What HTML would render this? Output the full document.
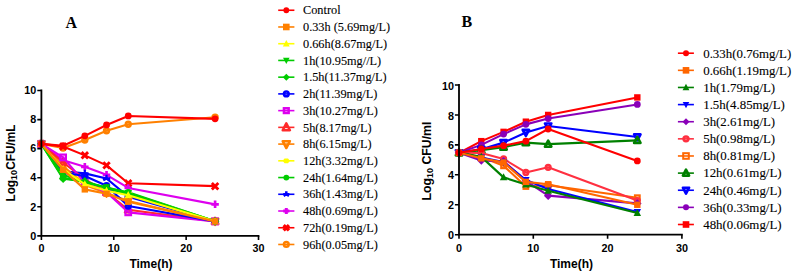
<!DOCTYPE html>
<html><head><meta charset="utf-8"><style>
html,body{margin:0;padding:0;background:#fff;width:792px;height:274px;overflow:hidden}
svg{display:block}
.tl{font-family:"Liberation Sans",sans-serif;font-weight:bold;font-size:10.8px;fill:#000}
.ax{font-family:"Liberation Sans",sans-serif;font-weight:bold;font-size:12px;fill:#000}
.sub{font-size:9px}
.let{font-family:"Liberation Serif",serif;font-weight:bold;font-size:16px;fill:#000}
.lg{font-family:"Liberation Serif",serif;font-size:12.3px;fill:#000;stroke:#000;stroke-width:0.1px}
.lg2{font-family:"Liberation Serif",serif;font-size:12.9px;fill:#000;stroke:#000;stroke-width:0.1px}
</style></head><body>
<svg width="792" height="274" viewBox="0 0 792 274">
<polyline points="41.4,143.86 63.11,147.93 84.82,139.94 106.53,130.78 128.24,124.23 215.09,117.25" fill="none" stroke="#ff8000" stroke-width="2.1" stroke-linejoin="round"/><circle cx="41.4" cy="143.86" r="2.4" fill="none" stroke="#ff8000" stroke-width="2.6"/><circle cx="63.11" cy="147.93" r="2.4" fill="none" stroke="#ff8000" stroke-width="2.6"/><circle cx="84.82" cy="139.94" r="2.4" fill="none" stroke="#ff8000" stroke-width="2.6"/><circle cx="106.53" cy="130.78" r="2.4" fill="none" stroke="#ff8000" stroke-width="2.6"/><circle cx="128.24" cy="124.23" r="2.4" fill="none" stroke="#ff8000" stroke-width="2.6"/><circle cx="215.09" cy="117.25" r="2.4" fill="none" stroke="#ff8000" stroke-width="2.6"/><polyline points="41.4,143.86 63.11,146.48 84.82,155.35 106.53,165.38 128.24,183.27 215.09,186.17" fill="none" stroke="#ff0000" stroke-width="2.1" stroke-linejoin="round"/><path d="M38.17,140.63L44.63,147.09M44.63,140.63L38.17,147.09" stroke="#ff0000" stroke-width="2.86"/><path d="M59.88,143.25L66.34,149.71M66.34,143.25L59.88,149.71" stroke="#ff0000" stroke-width="2.86"/><path d="M81.59,152.12L88.05,158.58M88.05,152.12L81.59,158.58" stroke="#ff0000" stroke-width="2.86"/><path d="M103.3,162.15L109.76,168.61M109.76,162.15L103.3,168.61" stroke="#ff0000" stroke-width="2.86"/><path d="M125.01,180.04L131.47,186.5M131.47,180.04L125.01,186.5" stroke="#ff0000" stroke-width="2.86"/><path d="M211.86,182.94L218.32,189.4M218.32,182.94L211.86,189.4" stroke="#ff0000" stroke-width="2.86"/><polyline points="41.4,143.86 63.11,160.29 84.82,166.84 106.53,174.83 128.24,187.92 215.09,204.35" fill="none" stroke="#dd00ee" stroke-width="2.1" stroke-linejoin="round"/><path d="M37.66,143.86H45.14M41.4,140.12V147.6" stroke="#dd00ee" stroke-width="2.64"/><path d="M59.37,160.29H66.85M63.11,156.55V164.03" stroke="#dd00ee" stroke-width="2.64"/><path d="M81.08,166.84H88.56M84.82,163.09V170.58" stroke="#dd00ee" stroke-width="2.64"/><path d="M102.79,174.83H110.27M106.53,171.09V178.57" stroke="#dd00ee" stroke-width="2.64"/><path d="M124.5,187.92H131.98M128.24,184.18V191.66" stroke="#dd00ee" stroke-width="2.64"/><path d="M211.35,204.35H218.83M215.09,200.61V208.09" stroke="#dd00ee" stroke-width="2.64"/><polyline points="41.4,143.86 63.11,171.2 84.82,173.38 106.53,178.47 128.24,196.64 215.09,221.36" fill="none" stroke="#0000ff" stroke-width="2.1" stroke-linejoin="round"/><path d="M41.4,143.86L41.4,140.12M41.4,143.86L38.16,145.73M41.4,143.86L44.64,145.73M37.66,143.86L45.14,143.86" stroke="#0000ff" stroke-width="2.2"/><path d="M63.11,171.2L63.11,167.46M63.11,171.2L59.87,173.07M63.11,171.2L66.35,173.07M59.37,171.2L66.85,171.2" stroke="#0000ff" stroke-width="2.2"/><path d="M84.82,173.38L84.82,169.64M84.82,173.38L81.58,175.25M84.82,173.38L88.06,175.25M81.08,173.38L88.56,173.38" stroke="#0000ff" stroke-width="2.2"/><path d="M106.53,178.47L106.53,174.73M106.53,178.47L103.29,180.34M106.53,178.47L109.77,180.34M102.79,178.47L110.27,178.47" stroke="#0000ff" stroke-width="2.2"/><path d="M128.24,196.64L128.24,192.9M128.24,196.64L125.01,198.51M128.24,196.64L131.48,198.51M124.5,196.64L131.98,196.64" stroke="#0000ff" stroke-width="2.2"/><path d="M215.09,221.36L215.09,217.62M215.09,221.36L211.85,223.23M215.09,221.36L218.33,223.23M211.35,221.36L218.83,221.36" stroke="#0000ff" stroke-width="2.2"/><polyline points="41.4,143.86 63.11,177.74 84.82,182.1 106.53,187.92 128.24,192.28 215.09,221.36" fill="none" stroke="#00cc00" stroke-width="2.1" stroke-linejoin="round"/><circle cx="41.4" cy="143.86" r="3.4" fill="#00cc00"/><circle cx="63.11" cy="177.74" r="3.4" fill="#00cc00"/><circle cx="84.82" cy="182.1" r="3.4" fill="#00cc00"/><circle cx="106.53" cy="187.92" r="3.4" fill="#00cc00"/><circle cx="128.24" cy="192.28" r="3.4" fill="#00cc00"/><circle cx="215.09" cy="221.36" r="3.4" fill="#00cc00"/><polyline points="41.4,143.86 63.11,168.29 84.82,182.1 106.53,190.1 128.24,193.73 215.09,221.36" fill="none" stroke="#ffff00" stroke-width="2.1" stroke-linejoin="round"/><polygon points="45.7,143.86 43.55,146.74 39.25,146.74 37.1,143.86 39.25,140.98 43.55,140.98" fill="#ffff00"/><polygon points="67.41,168.29 65.26,171.17 60.96,171.17 58.81,168.29 60.96,165.41 65.26,165.41" fill="#ffff00"/><polygon points="89.12,182.1 86.97,184.98 82.67,184.98 80.52,182.1 82.67,179.22 86.97,179.22" fill="#ffff00"/><polygon points="110.83,190.1 108.68,192.98 104.38,192.98 102.23,190.1 104.38,187.22 108.68,187.22" fill="#ffff00"/><polygon points="132.54,193.73 130.39,196.61 126.09,196.61 123.94,193.73 126.09,190.86 130.39,190.86" fill="#ffff00"/><polygon points="219.39,221.36 217.24,224.24 212.94,224.24 210.79,221.36 212.94,218.48 217.24,218.48" fill="#ffff00"/><polyline points="41.4,143.86 63.11,166.11 84.82,185.01 106.53,193.01 128.24,201 215.09,221.36" fill="none" stroke="#ff8000" stroke-width="2.1" stroke-linejoin="round"/><polygon points="41.4,147.6 44.8,141.14 38,141.14" fill="none" stroke="#ff8000" stroke-width="2.2" stroke-linejoin="round"/><polygon points="63.11,169.85 66.51,163.39 59.71,163.39" fill="none" stroke="#ff8000" stroke-width="2.2" stroke-linejoin="round"/><polygon points="84.82,188.75 88.22,182.29 81.42,182.29" fill="none" stroke="#ff8000" stroke-width="2.2" stroke-linejoin="round"/><polygon points="106.53,196.75 109.93,190.29 103.13,190.29" fill="none" stroke="#ff8000" stroke-width="2.2" stroke-linejoin="round"/><polygon points="128.24,204.74 131.64,198.28 124.84,198.28" fill="none" stroke="#ff8000" stroke-width="2.2" stroke-linejoin="round"/><polygon points="215.09,225.1 218.49,218.64 211.69,218.64" fill="none" stroke="#ff8000" stroke-width="2.2" stroke-linejoin="round"/><polyline points="41.4,143.86 63.11,162.47 84.82,179.19 106.53,192.28 128.24,209.73 215.09,221.36" fill="none" stroke="#ff2a2a" stroke-width="2.1" stroke-linejoin="round"/><polygon points="41.4,140.12 44.8,146.58 38,146.58" fill="none" stroke="#ff2a2a" stroke-width="2.2" stroke-linejoin="round"/><polygon points="63.11,158.73 66.51,165.19 59.71,165.19" fill="none" stroke="#ff2a2a" stroke-width="2.2" stroke-linejoin="round"/><polygon points="84.82,175.45 88.22,181.91 81.42,181.91" fill="none" stroke="#ff2a2a" stroke-width="2.2" stroke-linejoin="round"/><polygon points="106.53,188.54 109.93,195 103.13,195" fill="none" stroke="#ff2a2a" stroke-width="2.2" stroke-linejoin="round"/><polygon points="128.24,205.99 131.64,212.45 124.84,212.45" fill="none" stroke="#ff2a2a" stroke-width="2.2" stroke-linejoin="round"/><polygon points="215.09,217.62 218.49,224.08 211.69,224.08" fill="none" stroke="#ff2a2a" stroke-width="2.2" stroke-linejoin="round"/><polyline points="41.4,143.86 63.11,157.38 84.82,182.83 106.53,192.28 128.24,212.35 215.09,221.36" fill="none" stroke="#dd00ee" stroke-width="2.1" stroke-linejoin="round"/><rect x="38.6" y="141.06" width="5.6" height="5.6" fill="none" stroke="#dd00ee" stroke-width="2.2"/><rect x="60.31" y="154.58" width="5.6" height="5.6" fill="none" stroke="#dd00ee" stroke-width="2.2"/><rect x="82.02" y="180.03" width="5.6" height="5.6" fill="none" stroke="#dd00ee" stroke-width="2.2"/><rect x="103.73" y="189.48" width="5.6" height="5.6" fill="none" stroke="#dd00ee" stroke-width="2.2"/><rect x="125.44" y="209.55" width="5.6" height="5.6" fill="none" stroke="#dd00ee" stroke-width="2.2"/><rect x="212.29" y="218.56" width="5.6" height="5.6" fill="none" stroke="#dd00ee" stroke-width="2.2"/><polyline points="41.4,143.86 63.11,172.65 84.82,176 106.53,185.74 128.24,205.95 215.09,221.36" fill="none" stroke="#0000ff" stroke-width="2.1" stroke-linejoin="round"/><circle cx="41.4" cy="143.86" r="2.4" fill="none" stroke="#0000ff" stroke-width="2.6"/><circle cx="63.11" cy="172.65" r="2.4" fill="none" stroke="#0000ff" stroke-width="2.6"/><circle cx="84.82" cy="176" r="2.4" fill="none" stroke="#0000ff" stroke-width="2.6"/><circle cx="106.53" cy="185.74" r="2.4" fill="none" stroke="#0000ff" stroke-width="2.6"/><circle cx="128.24" cy="205.95" r="2.4" fill="none" stroke="#0000ff" stroke-width="2.6"/><circle cx="215.09" cy="221.36" r="2.4" fill="none" stroke="#0000ff" stroke-width="2.6"/><polyline points="41.4,143.86 63.11,178.76 84.82,181.38 106.53,187.92 128.24,194.46 215.09,221.36" fill="none" stroke="#00cc00" stroke-width="2.1" stroke-linejoin="round"/><polygon points="41.4,139.61 45.65,143.86 41.4,148.11 37.15,143.86" fill="#00cc00"/><polygon points="63.11,174.51 67.36,178.76 63.11,183.01 58.86,178.76" fill="#00cc00"/><polygon points="84.82,177.12 89.07,181.38 84.82,185.62 80.57,181.38" fill="#00cc00"/><polygon points="106.53,183.67 110.78,187.92 106.53,192.17 102.28,187.92" fill="#00cc00"/><polygon points="128.24,190.21 132.49,194.46 128.24,198.71 123.99,194.46" fill="#00cc00"/><polygon points="215.09,217.11 219.34,221.36 215.09,225.61 210.84,221.36" fill="#00cc00"/><polyline points="41.4,143.86 63.11,174.83 84.82,182.83 106.53,187.19 128.24,193.01 215.09,221.36" fill="none" stroke="#00cc00" stroke-width="2.1" stroke-linejoin="round"/><polygon points="41.4,147.98 45.14,140.87 37.66,140.87" fill="#00cc00"/><polygon points="63.11,178.95 66.85,171.84 59.37,171.84" fill="#00cc00"/><polygon points="84.82,186.94 88.56,179.84 81.08,179.84" fill="#00cc00"/><polygon points="106.53,191.31 110.27,184.2 102.79,184.2" fill="#00cc00"/><polygon points="128.24,197.12 131.98,190.02 124.5,190.02" fill="#00cc00"/><polygon points="215.09,225.47 218.83,218.37 211.35,218.37" fill="#00cc00"/><polyline points="41.4,143.86 63.11,169.02 84.82,184.28 106.53,190.83 128.24,195.19 215.09,221.36" fill="none" stroke="#ffff00" stroke-width="2.1" stroke-linejoin="round"/><polygon points="41.4,139.75 45.14,146.85 37.66,146.85" fill="#ffff00"/><polygon points="63.11,164.9 66.85,172.01 59.37,172.01" fill="#ffff00"/><polygon points="84.82,180.17 88.56,187.28 81.08,187.28" fill="#ffff00"/><polygon points="106.53,186.71 110.27,193.82 102.79,193.82" fill="#ffff00"/><polygon points="128.24,191.07 131.98,198.18 124.5,198.18" fill="#ffff00"/><polygon points="215.09,217.25 218.83,224.35 211.35,224.35" fill="#ffff00"/><polyline points="41.4,143.86 63.11,169.74 84.82,189.37 106.53,193.73 128.24,201.73 215.09,221.36" fill="none" stroke="#ff8000" stroke-width="2.1" stroke-linejoin="round"/><rect x="38.2" y="140.66" width="6.4" height="6.4" fill="#ff8000"/><rect x="59.91" y="166.54" width="6.4" height="6.4" fill="#ff8000"/><rect x="81.62" y="186.17" width="6.4" height="6.4" fill="#ff8000"/><rect x="103.33" y="190.53" width="6.4" height="6.4" fill="#ff8000"/><rect x="125.04" y="198.53" width="6.4" height="6.4" fill="#ff8000"/><rect x="211.89" y="218.16" width="6.4" height="6.4" fill="#ff8000"/><polyline points="41.4,143.86 63.11,145.75 84.82,135.86 106.53,124.96 128.24,115.95 215.09,118.85" fill="none" stroke="#ff0000" stroke-width="2.1" stroke-linejoin="round"/><circle cx="41.4" cy="143.86" r="3.4" fill="#ff0000"/><circle cx="63.11" cy="145.75" r="3.4" fill="#ff0000"/><circle cx="84.82" cy="135.86" r="3.4" fill="#ff0000"/><circle cx="106.53" cy="124.96" r="3.4" fill="#ff0000"/><circle cx="128.24" cy="115.95" r="3.4" fill="#ff0000"/><circle cx="215.09" cy="118.85" r="3.4" fill="#ff0000"/><path d="M41.4,89.6V236.8M40.5,235.9H259.41" stroke="#000" stroke-width="1.8" fill="none"/><text x="36.3" y="239.6" text-anchor="end" class="tl">0</text><text x="36.3" y="210.52" text-anchor="end" class="tl">2</text><text x="36.3" y="181.44" text-anchor="end" class="tl">4</text><text x="36.3" y="152.36" text-anchor="end" class="tl">6</text><text x="36.3" y="123.28" text-anchor="end" class="tl">8</text><text x="36.3" y="94.2" text-anchor="end" class="tl">10</text><text x="41.4" y="251.5" text-anchor="middle" class="tl">0</text><text x="113.77" y="251.5" text-anchor="middle" class="tl">10</text><text x="186.14" y="251.5" text-anchor="middle" class="tl">20</text><text x="258.51" y="251.5" text-anchor="middle" class="tl">30</text><path d="M37.3,235.9H41.4M37.3,206.82H41.4M37.3,177.74H41.4M37.3,148.66H41.4M37.3,119.58H41.4M37.3,90.5H41.4M41.4,235.9V240M113.77,235.9V240M186.14,235.9V240M258.51,235.9V240" stroke="#000" stroke-width="1.6" fill="none"/><text x="150.95" y="268" text-anchor="middle" class="ax">Time(h)</text><polyline points="459,152.81 481.29,141.14 503.58,131.86 525.87,121.68 548.16,114.94 637.32,97.43" fill="none" stroke="#ff0000" stroke-width="2.1" stroke-linejoin="round"/><rect x="455.8" y="149.61" width="6.4" height="6.4" fill="#ff0000"/><rect x="478.09" y="137.94" width="6.4" height="6.4" fill="#ff0000"/><rect x="500.38" y="128.66" width="6.4" height="6.4" fill="#ff0000"/><rect x="522.67" y="118.48" width="6.4" height="6.4" fill="#ff0000"/><rect x="544.96" y="111.74" width="6.4" height="6.4" fill="#ff0000"/><rect x="634.12" y="94.23" width="6.4" height="6.4" fill="#ff0000"/><polyline points="459,152.81 481.29,144.88 503.58,134.1 525.87,124.37 548.16,118.53 637.32,104.46" fill="none" stroke="#8a00b8" stroke-width="2.1" stroke-linejoin="round"/><circle cx="459" cy="152.81" r="3.4" fill="#8a00b8"/><circle cx="481.29" cy="144.88" r="3.4" fill="#8a00b8"/><circle cx="503.58" cy="134.1" r="3.4" fill="#8a00b8"/><circle cx="525.87" cy="124.37" r="3.4" fill="#8a00b8"/><circle cx="548.16" cy="118.53" r="3.4" fill="#8a00b8"/><circle cx="637.32" cy="104.46" r="3.4" fill="#8a00b8"/><polyline points="459,152.81 481.29,149.37 503.58,142.63 525.87,132.45 548.16,126.02 637.32,136.95" fill="none" stroke="#0000ff" stroke-width="2.1" stroke-linejoin="round"/><polygon points="459,156.33 462.2,150.25 455.8,150.25" fill="none" stroke="#0000ff" stroke-width="2.6" stroke-linejoin="round"/><polygon points="481.29,152.89 484.49,146.81 478.09,146.81" fill="none" stroke="#0000ff" stroke-width="2.6" stroke-linejoin="round"/><polygon points="503.58,146.15 506.78,140.07 500.38,140.07" fill="none" stroke="#0000ff" stroke-width="2.6" stroke-linejoin="round"/><polygon points="525.87,135.97 529.07,129.89 522.67,129.89" fill="none" stroke="#0000ff" stroke-width="2.6" stroke-linejoin="round"/><polygon points="548.16,129.54 551.36,123.46 544.96,123.46" fill="none" stroke="#0000ff" stroke-width="2.6" stroke-linejoin="round"/><polygon points="637.32,140.47 640.52,134.39 634.12,134.39" fill="none" stroke="#0000ff" stroke-width="2.6" stroke-linejoin="round"/><polyline points="459,152.81 481.29,150.12 503.58,147.13 525.87,142.63 548.16,144.13 637.32,140.39" fill="none" stroke="#008000" stroke-width="2.1" stroke-linejoin="round"/><polygon points="459,149.29 462.2,155.37 455.8,155.37" fill="none" stroke="#008000" stroke-width="2.6" stroke-linejoin="round"/><polygon points="481.29,146.6 484.49,152.68 478.09,152.68" fill="none" stroke="#008000" stroke-width="2.6" stroke-linejoin="round"/><polygon points="503.58,143.61 506.78,149.69 500.38,149.69" fill="none" stroke="#008000" stroke-width="2.6" stroke-linejoin="round"/><polygon points="525.87,139.11 529.07,145.19 522.67,145.19" fill="none" stroke="#008000" stroke-width="2.6" stroke-linejoin="round"/><polygon points="548.16,140.61 551.36,146.69 544.96,146.69" fill="none" stroke="#008000" stroke-width="2.6" stroke-linejoin="round"/><polygon points="637.32,136.87 640.52,142.95 634.12,142.95" fill="none" stroke="#008000" stroke-width="2.6" stroke-linejoin="round"/><polyline points="459,152.81 481.29,157.01 503.58,165.84 525.87,186.5 548.16,185.3 637.32,197.72" fill="none" stroke="#ff6600" stroke-width="2.1" stroke-linejoin="round"/><rect x="456.7" y="150.51" width="4.6" height="4.6" fill="none" stroke="#ff6600" stroke-width="2.2"/><rect x="478.99" y="154.71" width="4.6" height="4.6" fill="none" stroke="#ff6600" stroke-width="2.2"/><rect x="501.28" y="163.54" width="4.6" height="4.6" fill="none" stroke="#ff6600" stroke-width="2.2"/><rect x="523.57" y="184.2" width="4.6" height="4.6" fill="none" stroke="#ff6600" stroke-width="2.2"/><rect x="545.86" y="183" width="4.6" height="4.6" fill="none" stroke="#ff6600" stroke-width="2.2"/><rect x="635.02" y="195.42" width="4.6" height="4.6" fill="none" stroke="#ff6600" stroke-width="2.2"/><polyline points="459,152.81 481.29,152.96 503.58,158.95 525.87,172.42 548.16,167.33 637.32,200.57" fill="none" stroke="#ff3040" stroke-width="2.1" stroke-linejoin="round"/><circle cx="459" cy="152.81" r="2.35" fill="none" stroke="#ff3040" stroke-width="2.5"/><circle cx="481.29" cy="152.96" r="2.35" fill="none" stroke="#ff3040" stroke-width="2.5"/><circle cx="503.58" cy="158.95" r="2.35" fill="none" stroke="#ff3040" stroke-width="2.5"/><circle cx="525.87" cy="172.42" r="2.35" fill="none" stroke="#ff3040" stroke-width="2.5"/><circle cx="548.16" cy="167.33" r="2.35" fill="none" stroke="#ff3040" stroke-width="2.5"/><circle cx="637.32" cy="200.57" r="2.35" fill="none" stroke="#ff3040" stroke-width="2.5"/><polyline points="459,152.81 481.29,160.45 503.58,161.35 525.87,180.81 548.16,195.63 637.32,203.41" fill="none" stroke="#8a00b8" stroke-width="2.1" stroke-linejoin="round"/><polygon points="459,148.56 463.25,152.81 459,157.06 454.75,152.81" fill="#8a00b8"/><polygon points="481.29,156.2 485.54,160.45 481.29,164.7 477.04,160.45" fill="#8a00b8"/><polygon points="503.58,157.1 507.83,161.35 503.58,165.6 499.33,161.35" fill="#8a00b8"/><polygon points="525.87,176.56 530.12,180.81 525.87,185.06 521.62,180.81" fill="#8a00b8"/><polygon points="548.16,191.38 552.41,195.63 548.16,199.88 543.91,195.63" fill="#8a00b8"/><polygon points="637.32,199.16 641.57,203.41 637.32,207.66 633.07,203.41" fill="#8a00b8"/><polyline points="459,152.81 481.29,157.6 503.58,162.1 525.87,180.06 548.16,189.04 637.32,211.95" fill="none" stroke="#0000ff" stroke-width="2.1" stroke-linejoin="round"/><polygon points="459,156.93 462.74,149.82 455.26,149.82" fill="#0000ff"/><polygon points="481.29,161.72 485.03,154.61 477.55,154.61" fill="#0000ff"/><polygon points="503.58,166.21 507.32,159.1 499.84,159.1" fill="#0000ff"/><polygon points="525.87,184.17 529.61,177.07 522.13,177.07" fill="#0000ff"/><polygon points="548.16,193.16 551.9,186.05 544.42,186.05" fill="#0000ff"/><polygon points="637.32,216.06 641.06,208.95 633.58,208.95" fill="#0000ff"/><polyline points="459,152.81 481.29,156.86 503.58,177.36 525.87,184.55 548.16,190.69 637.32,212.99" fill="none" stroke="#008000" stroke-width="2.1" stroke-linejoin="round"/><polygon points="459,148.7 462.74,155.81 455.26,155.81" fill="#008000"/><polygon points="481.29,152.74 485.03,159.85 477.55,159.85" fill="#008000"/><polygon points="503.58,173.25 507.32,180.36 499.84,180.36" fill="#008000"/><polygon points="525.87,180.44 529.61,187.54 522.13,187.54" fill="#008000"/><polygon points="548.16,186.57 551.9,193.68 544.42,193.68" fill="#008000"/><polygon points="637.32,208.88 641.06,215.99 633.58,215.99" fill="#008000"/><polyline points="459,152.81 481.29,158.35 503.58,162.39 525.87,181.86 548.16,184.25 637.32,204.76" fill="none" stroke="#ff6600" stroke-width="2.1" stroke-linejoin="round"/><rect x="455.8" y="149.61" width="6.4" height="6.4" fill="#ff6600"/><rect x="478.09" y="155.15" width="6.4" height="6.4" fill="#ff6600"/><rect x="500.38" y="159.19" width="6.4" height="6.4" fill="#ff6600"/><rect x="522.67" y="178.66" width="6.4" height="6.4" fill="#ff6600"/><rect x="544.96" y="181.05" width="6.4" height="6.4" fill="#ff6600"/><rect x="634.12" y="201.56" width="6.4" height="6.4" fill="#ff6600"/><polyline points="459,152.81 481.29,148.92 503.58,145.63 525.87,141.14 548.16,129.01 637.32,160.9" fill="none" stroke="#ff0000" stroke-width="2.1" stroke-linejoin="round"/><circle cx="459" cy="152.81" r="3.4" fill="#ff0000"/><circle cx="481.29" cy="148.92" r="3.4" fill="#ff0000"/><circle cx="503.58" cy="145.63" r="3.4" fill="#ff0000"/><circle cx="525.87" cy="141.14" r="3.4" fill="#ff0000"/><circle cx="548.16" cy="129.01" r="3.4" fill="#ff0000"/><circle cx="637.32" cy="160.9" r="3.4" fill="#ff0000"/><path d="M459,84.1V235.6M458.1,234.7H682.8" stroke="#000" stroke-width="1.8" fill="none"/><text x="453.9" y="239.3" text-anchor="end" class="tl">0</text><text x="453.9" y="209.36" text-anchor="end" class="tl">2</text><text x="453.9" y="179.42" text-anchor="end" class="tl">4</text><text x="453.9" y="149.48" text-anchor="end" class="tl">6</text><text x="453.9" y="119.54" text-anchor="end" class="tl">8</text><text x="453.9" y="89.6" text-anchor="end" class="tl">10</text><text x="459" y="252" text-anchor="middle" class="tl">0</text><text x="533.3" y="252" text-anchor="middle" class="tl">10</text><text x="607.6" y="252" text-anchor="middle" class="tl">20</text><text x="681.9" y="252" text-anchor="middle" class="tl">30</text><path d="M454.9,234.7H459M454.9,204.76H459M454.9,174.82H459M454.9,144.88H459M454.9,114.94H459M454.9,85H459M459,234.7V238.8M533.3,234.7V238.8M607.6,234.7V238.8M681.9,234.7V238.8" stroke="#000" stroke-width="1.6" fill="none"/><text x="571.45" y="268" text-anchor="middle" class="ax">Time(h)</text><text transform="translate(14.6,201.6) rotate(-90)" class="ax" style="font-size:11.85px">Log<tspan class="sub" dy="2.2">10</tspan><tspan dy="-2.2">CFU/mL</tspan></text><text transform="translate(431,200.6) rotate(-90)" class="ax" style="font-size:12.3px">Log<tspan class="sub" dy="2.2">10</tspan><tspan dy="-2.2"> CFU/ml</tspan></text><text x="65.5" y="27.8" class="let">A</text><text x="461.5" y="27.2" class="let">B</text><path d="M278.2,10.25H294.4" stroke="#ff0000" stroke-width="1.6"/><circle cx="286.3" cy="10.25" r="2.9" fill="#ff0000"/><text x="303" y="14.45" class="lg">Control</text><path d="M278.2,26.98H294.4" stroke="#ff8000" stroke-width="1.6"/><rect x="283" y="23.68" width="6.6" height="6.6" fill="#ff8000"/><text x="303" y="31.18" class="lg">0.33h (5.69mg/L)</text><path d="M278.2,43.71H294.4" stroke="#ffff00" stroke-width="1.6"/><polygon points="286.3,39.96 289.71,46.44 282.89,46.44" fill="#ffff00"/><text x="303" y="47.91" class="lg">0.66h(8.67mg/L)</text><path d="M278.2,60.44H294.4" stroke="#00cc00" stroke-width="1.6"/><polygon points="286.3,64.07 289.6,57.8 283,57.8" fill="#00cc00"/><text x="303" y="64.64" class="lg">1h(10.95mg//L)</text><path d="M278.2,77.17H294.4" stroke="#00cc00" stroke-width="1.6"/><polygon points="286.3,73.67 289.8,77.17 286.3,80.67 282.8,77.17" fill="#00cc00"/><text x="303" y="81.37" class="lg">1.5h(11.37mg/L)</text><path d="M278.2,93.9H294.4" stroke="#0000ff" stroke-width="1.6"/><circle cx="286.3" cy="93.9" r="2.35" fill="none" stroke="#0000ff" stroke-width="2.5"/><text x="303" y="98.1" class="lg">2h(11.39mg/L)</text><path d="M278.2,110.63H294.4" stroke="#dd00ee" stroke-width="1.6"/><rect x="283.95" y="108.28" width="4.7" height="4.7" fill="none" stroke="#dd00ee" stroke-width="2.5"/><text x="303" y="114.83" class="lg">3h(10.27mg/L)</text><path d="M278.2,127.36H294.4" stroke="#ff2a2a" stroke-width="1.6"/><polygon points="286.3,123.4 289.9,130.24 282.7,130.24" fill="none" stroke="#ff2a2a" stroke-width="2.5" stroke-linejoin="round"/><text x="303" y="131.56" class="lg">5h(8.17mg/L)</text><path d="M278.2,144.09H294.4" stroke="#ff8000" stroke-width="1.6"/><polygon points="286.3,148.05 289.9,141.21 282.7,141.21" fill="none" stroke="#ff8000" stroke-width="2.5" stroke-linejoin="round"/><text x="303" y="148.29" class="lg">8h(6.15mg/L)</text><path d="M278.2,160.82H294.4" stroke="#ffff00" stroke-width="1.6"/><polygon points="289.84,160.82 288.07,163.19 284.53,163.19 282.76,160.82 284.53,158.45 288.07,158.45" fill="#ffff00"/><text x="303" y="165.02" class="lg">12h(3.32mg/L)</text><path d="M278.2,177.55H294.4" stroke="#00cc00" stroke-width="1.6"/><circle cx="286.3" cy="177.55" r="2.9" fill="#00cc00"/><text x="303" y="181.75" class="lg">24h(1.64mg/L)</text><path d="M278.2,194.28H294.4" stroke="#0000ff" stroke-width="1.6"/><path d="M286.3,194.28L286.3,191.2M286.3,194.28L283.63,195.82M286.3,194.28L288.97,195.82M283.22,194.28L289.38,194.28" stroke="#0000ff" stroke-width="2.5"/><text x="303" y="198.48" class="lg">36h(1.43mg/L)</text><path d="M278.2,211.01H294.4" stroke="#dd00ee" stroke-width="1.6"/><path d="M283.22,211.01H289.38M286.3,207.93V214.09" stroke="#dd00ee" stroke-width="3"/><text x="303" y="215.21" class="lg">48h(0.69mg/L)</text><path d="M278.2,227.74H294.4" stroke="#ff0000" stroke-width="1.6"/><path d="M283.64,225.08L288.96,230.4M288.96,225.08L283.64,230.4" stroke="#ff0000" stroke-width="3.25"/><text x="303" y="231.94" class="lg">72h(0.19mg/L)</text><path d="M278.2,244.47H294.4" stroke="#ff8000" stroke-width="1.6"/><circle cx="286.3" cy="244.47" r="2.35" fill="none" stroke="#ff8000" stroke-width="2.5"/><text x="303" y="248.67" class="lg">96h(0.05mg/L)</text><path d="M677.9,53.2H693.9" stroke="#ff0000" stroke-width="1.6"/><circle cx="686" cy="53.2" r="3" fill="#ff0000"/><text x="703.2" y="57.5" class="lg2">0.33h(0.76mg/L)</text><path d="M677.9,70.33H693.9" stroke="#ff6600" stroke-width="1.6"/><rect x="682.7" y="67.03" width="6.6" height="6.6" fill="#ff6600"/><text x="703.2" y="74.63" class="lg2">0.66h(1.19mg/L)</text><path d="M677.9,87.46H693.9" stroke="#008000" stroke-width="1.6"/><polygon points="686,83.71 689.41,90.19 682.59,90.19" fill="#008000"/><text x="703.2" y="91.76" class="lg2">1h(1.79mg/L)</text><path d="M677.9,104.59H693.9" stroke="#0000ff" stroke-width="1.6"/><polygon points="686,108.22 689.3,101.95 682.7,101.95" fill="#0000ff"/><text x="703.2" y="108.89" class="lg2">1.5h(4.85mg/L)</text><path d="M677.9,121.72H693.9" stroke="#8a00b8" stroke-width="1.6"/><polygon points="686,118.22 689.5,121.72 686,125.22 682.5,121.72" fill="#8a00b8"/><text x="703.2" y="126.02" class="lg2">3h(2.61mg/L)</text><path d="M677.9,138.85H693.9" stroke="#ff3040" stroke-width="1.6"/><circle cx="686" cy="138.85" r="2.4" fill="none" stroke="#ff3040" stroke-width="2.6"/><text x="703.2" y="143.15" class="lg2">5h(0.98mg/L)</text><path d="M677.9,155.98H693.9" stroke="#ff6600" stroke-width="1.6"/><rect x="683.2" y="153.18" width="5.6" height="5.6" fill="none" stroke="#ff6600" stroke-width="2"/><text x="703.2" y="160.28" class="lg2">8h(0.81mg/L)</text><path d="M677.9,173.11H693.9" stroke="#008000" stroke-width="1.6"/><polygon points="686,169.7 689.1,175.59 682.9,175.59" fill="none" stroke="#008000" stroke-width="2.6" stroke-linejoin="round"/><text x="703.2" y="177.41" class="lg2">12h(0.61mg/L)</text><path d="M677.9,190.24H693.9" stroke="#0000ff" stroke-width="1.6"/><polygon points="686,193.65 689.1,187.76 682.9,187.76" fill="none" stroke="#0000ff" stroke-width="2.6" stroke-linejoin="round"/><text x="703.2" y="194.54" class="lg2">24h(0.46mg/L)</text><path d="M677.9,207.37H693.9" stroke="#8a00b8" stroke-width="1.6"/><circle cx="686" cy="207.37" r="3" fill="#8a00b8"/><text x="703.2" y="211.67" class="lg2">36h(0.33mg/L)</text><path d="M677.9,224.5H693.9" stroke="#ff0000" stroke-width="1.6"/><rect x="682.7" y="221.2" width="6.6" height="6.6" fill="#ff0000"/><text x="703.2" y="228.8" class="lg2">48h(0.06mg/L)</text>
</svg></body></html>
